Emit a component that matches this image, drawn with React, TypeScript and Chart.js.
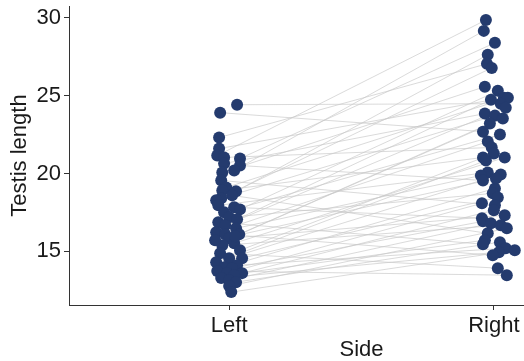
import React, { useEffect, useRef } from 'react';
import { Chart, registerables } from 'chart.js';

Chart.register(...registerables);

const categories = ['Left', 'Right'];
const yTicks = [15, 20, 25, 30];

const leftLength = [
  24.42, 23.91, 22.31, 21.6, 21.15, 21.03, 20.96, 20.64, 20.51, 20.19, 20.06, 19.55, 19.1,
  18.91, 18.85, 18.59, 18.4, 18.27, 17.95, 17.82, 17.69, 17.5, 17.18, 17.05, 16.86, 16.67,
  16.47, 16.22, 16.09, 16.09, 15.83, 15.51, 15.38, 15.06, 14.87, 14.55, 14.55, 14.29, 14.1,
  13.97, 13.91, 13.72, 13.59, 13.59, 13.46, 13.27, 13.14, 13.01, 12.76, 12.37, 15.71, 15.96,
];
const leftJitter = [
  0.03, -0.034, -0.038, -0.038, -0.045, -0.019, 0.041, -0.019, 0.041, 0.019, -0.026, -0.03,
  -0.011, -0.026, 0.026, 0.011, -0.03, -0.049, -0.041, 0.019, 0.041, -0.019, 0.0, 0.03, -0.041,
  -0.015, 0.026, -0.049, -0.015, 0.038, 0.0, 0.019, -0.026, 0.041, -0.034, 0.0, 0.049, -0.049,
  0.03, -0.019, 0.011, -0.045, -0.008, 0.049, 0.019, -0.03, 0.0, 0.026, 0.0, 0.008, -0.053, 0.023,
];
const rightLength = [
  29.87, 29.17, 28.4, 27.63, 27.05, 26.79, 25.58, 25.32, 24.87, 24.87, 24.74, 24.49, 24.23,
  23.85, 23.72, 23.21, 22.69, 22.5, 22.05, 21.67, 21.28, 21.03, 21.03, 20.83, 20.06, 19.87,
  19.94, 19.55, 19.04, 18.72, 18.46, 18.08, 17.95, 17.63, 17.31, 17.12, 16.92, 16.79, 16.67,
  16.47, 16.15, 15.71, 15.58, 15.45, 15.19, 15.06, 14.94, 14.74, 13.91, 13.46, 19.68, 23.53,
];
const rightJitter = [
  -0.03, -0.038, 0.004, -0.023, -0.026, -0.008, -0.034, 0.015, 0.038, 0.053, -0.011, 0.026,
  0.045, -0.034, 0.004, -0.015, -0.041, 0.023, -0.023, -0.008, 0.0, -0.041, 0.041, -0.03,
  -0.023, -0.049, 0.026, -0.041, 0.004, -0.004, 0.015, -0.045, 0.004, 0.0, 0.041, -0.045,
  -0.041, -0.011, 0.026, 0.049, -0.023, -0.034, 0.023, -0.041, 0.045, 0.079, 0.019, -0.004,
  0.015, 0.049, 0.008, 0.034,
];
// index (1-based) of the right-side measurement belonging to each left-side one
const pairing = [
  12, 17, 5, 9, 1, 20, 3, 14, 28, 2, 7, 33, 10, 22, 4, 41, 15, 6, 25, 36, 8, 18, 30, 11, 44, 13,
  26, 19, 48, 16, 35, 23, 39, 21, 49, 27, 31, 24, 45, 29, 37, 50, 32, 42, 34, 47, 38, 43, 40, 46,
  51, 52,
];

const FONT = "'Liberation Sans', Arial, Helvetica, sans-serif";
const DOT = '#243b6e';
const TEXT = '#1a1a1a';
const AXIS = '#333333';

export default function App() {
  const ref = useRef<HTMLCanvasElement | null>(null);

  useEffect(() => {
    if (!ref.current) return;
    const lineSets = leftLength.map((v, i) => {
      const r = pairing[i] - 1;
      return {
        data: [
          { x: 1 + leftJitter[i], y: v },
          { x: 2 + rightJitter[r], y: rightLength[r] },
        ],
        showLine: true,
        borderColor: 'rgba(200,200,200,0.85)',
        borderWidth: 0.8,
        pointRadius: 0,
        order: 2,
      };
    });
    const points = [
      ...leftLength.map((v, i) => ({ x: 1 + leftJitter[i], y: v })),
      ...rightLength.map((v, i) => ({ x: 2 + rightJitter[i], y: v })),
    ];
    const font = { family: FONT, size: 22 };
    const chart = new Chart(ref.current, {
      type: 'scatter',
      data: {
        datasets: [
          {
            data: points,
            backgroundColor: DOT,
            borderColor: DOT,
            borderWidth: 0,
            pointRadius: 6,
            order: 1,
          } as any,
          ...lineSets,
        ],
      },
      options: {
        animation: false,
        responsive: false,
        devicePixelRatio: 1,
        layout: { padding: { top: 5, right: 3, left: 0, bottom: 0 } },
        plugins: { legend: { display: false }, tooltip: { enabled: false } },
        scales: {
          x: {
            type: 'linear',
            min: 0.395,
            max: 2.605,
            afterBuildTicks: (s: any) => {
              s.ticks = [1, 2].map((value) => ({ value }));
            },
            afterFit: (s: any) => {
              s.height = 56;
              s.paddingLeft = 0;
              s.paddingRight = 0;
            },
            ticks: {
              callback: (v: any) => categories[Number(v) - 1],
              font,
              color: TEXT,
              padding: 3,
            },
            grid: {
              display: true,
              drawOnChartArea: false,
              drawTicks: true,
              tickLength: 5,
              color: AXIS,
              lineWidth: 1,
            },
            border: { display: true, color: AXIS, width: 1 },
            title: {
              display: true,
              text: 'Side',
              font,
              color: TEXT,
              padding: { top: 0, bottom: -2 },
            },
          },
          y: {
            type: 'linear',
            min: 11.54,
            max: 30.77,
            afterBuildTicks: (s: any) => {
              s.ticks = yTicks.map((value) => ({ value }));
            },
            afterFit: (s: any) => {
              s.width = 69;
              s.paddingTop = 0;
              s.paddingBottom = 0;
            },
            ticks: { font, color: TEXT, padding: 3 },
            grid: {
              display: true,
              drawOnChartArea: false,
              drawTicks: true,
              tickLength: 5,
              color: AXIS,
              lineWidth: 1,
            },
            border: { display: true, color: AXIS, width: 1 },
            title: {
              display: true,
              text: 'Testis length',
              font,
              color: TEXT,
              padding: { top: 7, bottom: 0 },
            },
          },
        },
      } as any,
    });
    return () => chart.destroy();
  }, []);

  return (
    <div
      style={{
        position: 'absolute',
        left: 0,
        top: 0,
        width: 524,
        height: 361,
        overflow: 'hidden',
        background: '#fff',
      }}
    >
      <canvas ref={ref} width={660} height={361} style={{ width: 660, height: 361, display: 'block' }} />
    </div>
  );
}
